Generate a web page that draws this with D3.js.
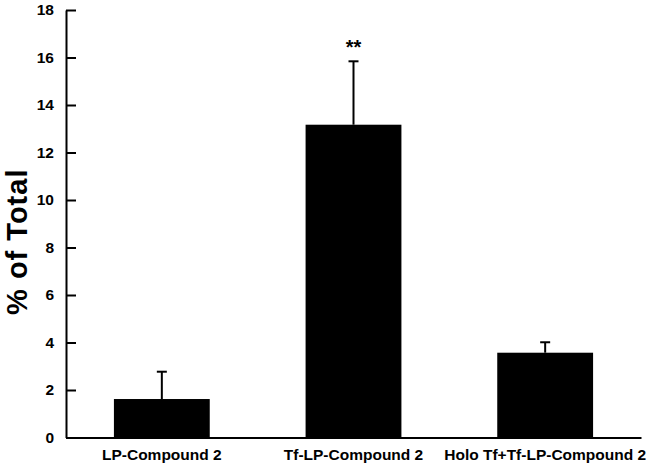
<!DOCTYPE html>
<html>
<head>
<meta charset="utf-8">
<script src="https://cdn.jsdelivr.net/npm/d3@7"></script>
<style>
	body { margin: 0; background: #fff; }
	svg { display: block; font-family: Arial, "Liberation Sans", sans-serif; }
	.tick text { font-weight: bold; }
</style>
</head>
<body>
<svg id="chart"></svg>
<script>
const categories = ["LP-Compound 2", "Tf-LP-Compound 2", "Holo Tf+Tf-LP-Compound 2"];
const means = [1.62, 13.17, 3.57];
const errors = [1.15, 2.67, 0.44];
const marks = ["", "**", ""];
const yTicks = [0, 2, 4, 6, 8, 10, 12, 14, 16, 18];

const viewWidth = 651, viewHeight = 465;
const margin = { top: 10, right: 10, bottom: 27.5, left: 66 };
const width = viewWidth - margin.left - margin.right;
const height = viewHeight - margin.top - margin.bottom;

const svg = d3.select("#chart")
	.attr("width", viewWidth)
	.attr("height", viewHeight)
	.append("g")
	.attr("transform", "translate(" + margin.left + "," + margin.top + ")");

const x = d3.scaleBand()
	.domain(categories)
	.range([0, width])
	.paddingInner(0.5)
	.paddingOuter(0.25);
const y = d3.scaleLinear()
	.domain([0, 18])
	.range([height, 0]);

// bars
svg.selectAll("rect.bar")
	.data(categories)
	.join("rect")
	.attr("class", "bar")
	.attr("x", d => x(d))
	.attr("width", x.bandwidth())
	.attr("y", (d, i) => y(means[i]))
	.attr("height", (d, i) => height - y(means[i]))
	.attr("fill", "#000");

// error bars (upper only)
svg.selectAll("line.err")
	.data(categories)
	.join("line")
	.attr("class", "err")
	.attr("x1", d => x(d) + x.bandwidth() / 2)
	.attr("x2", d => x(d) + x.bandwidth() / 2)
	.attr("y1", (d, i) => y(means[i]))
	.attr("y2", (d, i) => y(means[i] + errors[i]))
	.attr("stroke", "#000")
	.attr("stroke-width", 2);

svg.selectAll("line.cap")
	.data(categories)
	.join("line")
	.attr("class", "cap")
	.attr("x1", d => x(d) + x.bandwidth() / 2 - 5)
	.attr("x2", d => x(d) + x.bandwidth() / 2 + 5)
	.attr("y1", (d, i) => y(means[i] + errors[i]))
	.attr("y2", (d, i) => y(means[i] + errors[i]))
	.attr("stroke", "#000")
	.attr("stroke-width", 2);

svg.selectAll("text.mark")
	.data(categories)
	.join("text")
	.attr("class", "mark")
	.attr("x", d => x(d) + x.bandwidth() / 2)
	.attr("y", (d, i) => y(means[i] + errors[i]) - 7)
	.attr("text-anchor", "middle")
	.style("font-size", "20px")
	.style("font-weight", "bold")
	.text((d, i) => marks[i]);

// y axis
const yAxis = svg.append("g")
	.call(d3.axisLeft(y).tickValues(yTicks).tickSizeInner(-10).tickSizeOuter(0).tickPadding(12));
yAxis.select(".domain").attr("stroke-width", 2);
yAxis.selectAll(".tick line").attr("stroke-width", 2);
yAxis.selectAll(".tick text").style("font-size", "15.5px").attr("fill", "#000");

// x axis
const xAxis = svg.append("g")
	.attr("transform", "translate(0," + height + ")")
	.call(d3.axisBottom(x).tickSize(0).tickPadding(11));
xAxis.select(".domain").attr("stroke-width", 2);
xAxis.selectAll(".tick text").style("font-size", "15.5px").attr("fill", "#000");

// y title
svg.append("text")
	.attr("transform", "rotate(-90)")
	.attr("x", -(y(9) + 18))
	.attr("y", 27 - margin.left)
	.attr("text-anchor", "middle")
	.style("font-size", "29px")
	.style("font-weight", "bold")
	.style("letter-spacing", "1px")
	.text("% of Total");
</script>
</body>
</html>
